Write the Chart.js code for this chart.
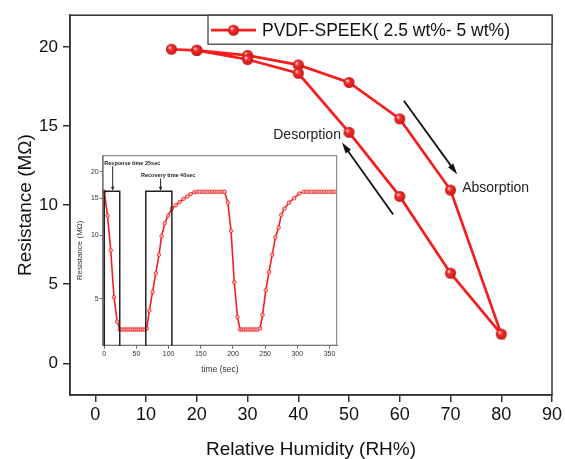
<!DOCTYPE html>
<html>
<head>
<meta charset="utf-8">
<script src="https://cdn.jsdelivr.net/npm/chart.js@4.4.1/dist/chart.umd.min.js"></script>
<style>
  html, body { margin: 0; padding: 0; background: #ffffff; }
  #wrap { position: relative; width: 565px; height: 459px; }
  #main { position: absolute; left: 0; top: 0; }
  #inset { position: absolute; left: 72px; top: 150px; }
</style>
</head>
<body>
<div id="wrap">
  <canvas id="main" width="565" height="459"></canvas>
  <canvas id="inset" width="270" height="230"></canvas>
</div>
<script>
// ---------- main chart data ----------
const seriesName = 'PVDF-SPEEK( 2.5 wt%- 5 wt%)';
const humidity = [15, 20, 30, 40, 50, 60, 70, 80, 70, 60, 50, 40, 30, 20];
const resistance = [19.85, 19.78, 19.46, 18.86, 17.75, 15.45, 10.95, 1.85, 5.7, 10.55, 14.6, 18.33, 19.2, 19.78];
const xTicks = [0, 10, 20, 30, 40, 50, 60, 70, 80, 90];
const yTicks = [0, 5, 10, 15, 20];

// ---------- inset data ----------
const timeSec = [0, 5, 10, 15, 20, 24, 27, 30, 33, 36, 39, 42, 45, 48, 51, 54, 57, 60, 63,
  66, 70, 75, 80, 85, 89, 94, 99, 105, 111, 117, 123, 129, 134, 140,
  144, 148, 152, 156, 160, 164, 168, 172, 176, 180, 184, 187,
  192, 197, 202, 207, 211, 214, 217, 220, 223, 226, 229, 232, 235, 238, 242,
  246, 251, 256, 261, 266, 271, 275, 280, 287, 295, 303, 310,
  314, 318, 322, 326, 330, 334, 338, 342, 346, 350, 354, 358];
const insetR = [16.1, 12.4, 8.5, 5.1, 3.9, 3.58, 3.58, 3.58, 3.58, 3.58, 3.58, 3.58, 3.58, 3.58, 3.58, 3.58, 3.58, 3.58, 3.58,
  3.62, 4.4, 5.4, 6.6, 8.1, 9.9, 11.4, 12.4, 13.4, 13.9, 14.4, 14.9, 15.3, 15.7, 16.0,
  16.1, 16.1, 16.1, 16.1, 16.1, 16.1, 16.1, 16.1, 16.1, 16.1, 16.1, 16.1,
  14.3, 10.5, 6.0, 4.1, 3.58, 3.58, 3.58, 3.58, 3.58, 3.58, 3.58, 3.58, 3.58, 3.58, 3.62,
  4.2, 5.5, 6.7, 8.1, 9.8, 10.9, 12.5, 13.4, 14.3, 15.0, 15.8, 16.1,
  16.1, 16.1, 16.1, 16.1, 16.1, 16.1, 16.1, 16.1, 16.1, 16.1, 16.1, 16.1];
const insetXTicks = [0, 50, 100, 150, 200, 250, 300, 350];
const insetYTicks = [5, 10, 15, 20];
const responseWindow = [0, 24];
const recoveryWindow = [64.5, 105];
const responseLabel = 'Response time 25sec';
const recoveryLabel = 'Recovery time 40sec';

// ---------- styles ----------
const RED = '#f41e1e';
const FONT = "'Liberation Sans', Arial, sans-serif";
const AXIS = '#333333';

function sphere(r) {
  const c = document.createElement('canvas');
  c.width = c.height = Math.ceil(2 * r + 2);
  const g = c.getContext('2d');
  const cx = c.width / 2, cy = c.height / 2;
  const grd = g.createRadialGradient(cx - r * 0.35, cy - r * 0.35, r * 0.08, cx, cy, r);
  grd.addColorStop(0, '#ffe0e0');
  grd.addColorStop(0.3, '#f43434');
  grd.addColorStop(1, '#c81414');
  g.fillStyle = grd;
  g.beginPath(); g.arc(cx, cy, r, 0, Math.PI * 2); g.fill();
  return c;
}
const ball = sphere(5.5);

function arrow(ctx, x1, y1, x2, y2, head, width, lw, color) {
  const a = Math.atan2(y2 - y1, x2 - x1);
  ctx.save();
  ctx.strokeStyle = color; ctx.fillStyle = color; ctx.lineWidth = lw;
  ctx.beginPath();
  ctx.moveTo(x1, y1);
  ctx.lineTo(x2 - Math.cos(a) * head * 0.8, y2 - Math.sin(a) * head * 0.8);
  ctx.stroke();
  ctx.beginPath();
  ctx.moveTo(x2, y2);
  ctx.lineTo(x2 - Math.cos(a) * head + Math.sin(a) * width / 2, y2 - Math.sin(a) * head - Math.cos(a) * width / 2);
  ctx.lineTo(x2 - Math.cos(a) * head - Math.sin(a) * width / 2, y2 - Math.sin(a) * head + Math.cos(a) * width / 2);
  ctx.closePath();
  ctx.fill();
  ctx.restore();
}

// annotation positions (data coordinates)
const mainNotes = {
  desorptionText: { x: 48.4, y: 14.45 },
  absorptionText: { x: 72.3, y: 11.1 },
  absArrow: { from: [60.8, 16.6], to: [71.3, 11.95] },
  desArrow: { from: [58.7, 9.4], to: [48.6, 13.95] }
};

const mainDecor = {
  id: 'mainDecor',
  afterDraw(chart) {
    const { ctx, chartArea: a, scales: { x, y } } = chart;
    ctx.save();
    // frame
    ctx.strokeStyle = AXIS; ctx.lineWidth = 1.5;
    ctx.strokeRect(a.left, a.top, a.right - a.left, a.bottom - a.top);
    // legend box
    const lx = 208, ly = a.top, lw = a.right - 208, lh = 29;
    ctx.fillStyle = '#fff';
    ctx.fillRect(lx, ly, lw, lh);
    ctx.lineWidth = 1.2; ctx.strokeStyle = AXIS;
    ctx.strokeRect(lx, ly, lw, lh);
    const cy = ly + lh / 2 + 0.5;
    ctx.strokeStyle = RED; ctx.lineWidth = 2.7;
    ctx.beginPath(); ctx.moveTo(211, cy); ctx.lineTo(256, cy); ctx.stroke();
    ctx.drawImage(ball, 233.5 - ball.width / 2, cy - ball.height / 2);
    ctx.fillStyle = '#111';
    ctx.font = '17.5px ' + FONT;
    ctx.textBaseline = 'middle'; ctx.textAlign = 'left';
    ctx.fillText(seriesName, 262, cy + 1);
    // notes
    ctx.font = '14px ' + FONT;
    ctx.fillStyle = '#222';
    ctx.textAlign = 'right';
    ctx.fillText('Desorption', x.getPixelForValue(mainNotes.desorptionText.x), y.getPixelForValue(mainNotes.desorptionText.y));
    ctx.textAlign = 'left';
    ctx.fillText('Absorption', x.getPixelForValue(mainNotes.absorptionText.x), y.getPixelForValue(mainNotes.absorptionText.y));
    const A = mainNotes.absArrow, D = mainNotes.desArrow;
    arrow(ctx, x.getPixelForValue(A.from[0]), y.getPixelForValue(A.from[1]), x.getPixelForValue(A.to[0]), y.getPixelForValue(A.to[1]), 11, 6.5, 1.8, '#111');
    arrow(ctx, x.getPixelForValue(D.from[0]), y.getPixelForValue(D.from[1]), x.getPixelForValue(D.to[0]), y.getPixelForValue(D.to[1]), 11, 6.5, 1.8, '#111');
    ctx.restore();
  }
};

new Chart(document.getElementById('main'), {
  type: 'scatter',
  data: {
    datasets: [{
      label: seriesName,
      data: humidity.map((h, i) => ({ x: h, y: resistance[i] })),
      showLine: true,
      borderColor: RED,
      borderWidth: 2.7,
      pointStyle: ball,
      pointRadius: 5.5,
      tension: 0
    }]
  },
  options: {
    responsive: false,
    animation: false,
    devicePixelRatio: 1,
    layout: { padding: { top: 13, right: 13, left: 0, bottom: 0 } },
    plugins: { legend: { display: false }, tooltip: { enabled: false } },
    scales: {
      x: {
        type: 'linear', min: -5, max: 90,
        afterBuildTicks: s => { s.ticks = xTicks.map(v => ({ value: v })); },
        afterFit: s => { s.height = 64; },
        ticks: { font: { family: FONT, size: 18 }, color: '#111', padding: 2, maxRotation: 0, autoSkip: false },
        grid: { drawOnChartArea: false, tickLength: 7, color: AXIS, lineWidth: 1.5 },
        border: { color: AXIS, width: 1.5 },
        title: { display: true, text: 'Relative Humidity (RH%)', font: { family: FONT, size: 19, lineHeight: 1 }, color: '#111', padding: 0 }
      },
      y: {
        type: 'linear', min: -2, max: 22,
        afterBuildTicks: s => { s.ticks = yTicks.map(v => ({ value: v })); },
        afterFit: s => { s.width = 70; },
        ticks: { font: { family: FONT, size: 17 }, color: '#111', padding: 5, autoSkip: false },
        grid: { drawOnChartArea: false, tickLength: 7, color: AXIS, lineWidth: 1.5 },
        border: { color: AXIS, width: 1.5 },
        title: { display: true, text: 'Resistance (MΩ)', font: { family: FONT, size: 19, lineHeight: 1.2 }, color: '#111', padding: { top: 14, bottom: 0 } }
      }
    }
  },
  plugins: [mainDecor]
});

// ---------- inset ----------
const insetNotes = {
  responseText: { x: 0, y: 22.0 },
  recoveryText: { x: 57, y: 19.3 },
  responseArrow: { x: 13, from: 21.3, to: 16.3 },
  recoveryArrow: { x: 87.5, from: 18.6, to: 16.3 },
  boxTop: 16.2
};

const insetDecor = {
  id: 'insetDecor',
  afterDraw(chart) {
    const { ctx, chartArea: a, scales: { x, y } } = chart;
    ctx.save();
    ctx.strokeStyle = '#777'; ctx.lineWidth = 1;
    ctx.strokeRect(a.left + 0.5, a.top + 0.5, a.right - a.left - 1, a.bottom - a.top - 1);
    ctx.strokeStyle = '#222'; ctx.lineWidth = 1.5;
    const top = y.getPixelForValue(insetNotes.boxTop);
    [responseWindow, recoveryWindow].forEach(w => {
      const l = Math.max(x.getPixelForValue(w[0]), a.left + 0.5);
      const r = x.getPixelForValue(w[1]);
      ctx.beginPath();
      ctx.moveTo(l, a.bottom); ctx.lineTo(l, top); ctx.lineTo(r, top); ctx.lineTo(r, a.bottom);
      ctx.stroke();
    });
    ctx.fillStyle = '#222';
    ctx.font = 'bold 5.5px ' + FONT;
    ctx.textBaseline = 'middle'; ctx.textAlign = 'left';
    ctx.fillText(responseLabel, x.getPixelForValue(insetNotes.responseText.x), y.getPixelForValue(insetNotes.responseText.y));
    ctx.fillText(recoveryLabel, x.getPixelForValue(insetNotes.recoveryText.x), y.getPixelForValue(insetNotes.recoveryText.y));
    const RA = insetNotes.responseArrow, VA = insetNotes.recoveryArrow;
    arrow(ctx, x.getPixelForValue(RA.x), y.getPixelForValue(RA.from), x.getPixelForValue(RA.x), y.getPixelForValue(RA.to), 4, 3.5, 1, '#222');
    arrow(ctx, x.getPixelForValue(VA.x), y.getPixelForValue(VA.from), x.getPixelForValue(VA.x), y.getPixelForValue(VA.to), 4, 3.5, 1, '#222');
    ctx.restore();
  }
};

new Chart(document.getElementById('inset'), {
  type: 'scatter',
  data: {
    datasets: [{
      data: timeSec.map((t, i) => ({ x: t, y: insetR[i] })),
      showLine: true,
      borderColor: RED,
      borderWidth: 1.6,
      pointRadius: 1.8,
      pointBorderWidth: 0.8,
      pointBorderColor: RED,
      pointBackgroundColor: '#ffb4b4',
      tension: 0
    }]
  },
  options: {
    responsive: false,
    animation: false,
    devicePixelRatio: 1,
    layout: { padding: { top: 4, right: 3.7, left: 0, bottom: 0 } },
    plugins: { legend: { display: false }, tooltip: { enabled: false } },
    scales: {
      x: {
        type: 'linear', min: -2.5, max: 362,
        afterBuildTicks: s => { s.ticks = insetXTicks.map(v => ({ value: v })); },
        afterFit: s => { s.height = 34.3; },
        ticks: { font: { family: FONT, size: 7 }, color: '#333', padding: 1, maxRotation: 0, autoSkip: false },
        grid: { drawOnChartArea: false, tickLength: 3, color: '#666', lineWidth: 1 },
        border: { color: '#777', width: 1 },
        title: { display: true, text: 'time (sec)', font: { family: FONT, size: 8.5, lineHeight: 1.2 }, color: '#333', padding: { top: 0, bottom: 5 } }
      },
      y: {
        type: 'logarithmic', min: 3, max: 24,
        afterBuildTicks: s => { s.ticks = insetYTicks.map(v => ({ value: v })); },
        afterFit: s => { s.width = 30.7; },
        ticks: { font: { family: FONT, size: 7 }, color: '#333', padding: 1, autoSkip: false, callback: v => String(v) },
        grid: { drawOnChartArea: false, tickLength: 3, color: '#666', lineWidth: 1 },
        border: { color: '#777', width: 1 },
        title: { display: true, text: 'Resistance (MΩ)', font: { family: FONT, size: 8, lineHeight: 1.2 }, color: '#333', padding: { top: 3, bottom: 0 } }
      }
    }
  },
  plugins: [insetDecor]
});
</script>
</body>
</html>
